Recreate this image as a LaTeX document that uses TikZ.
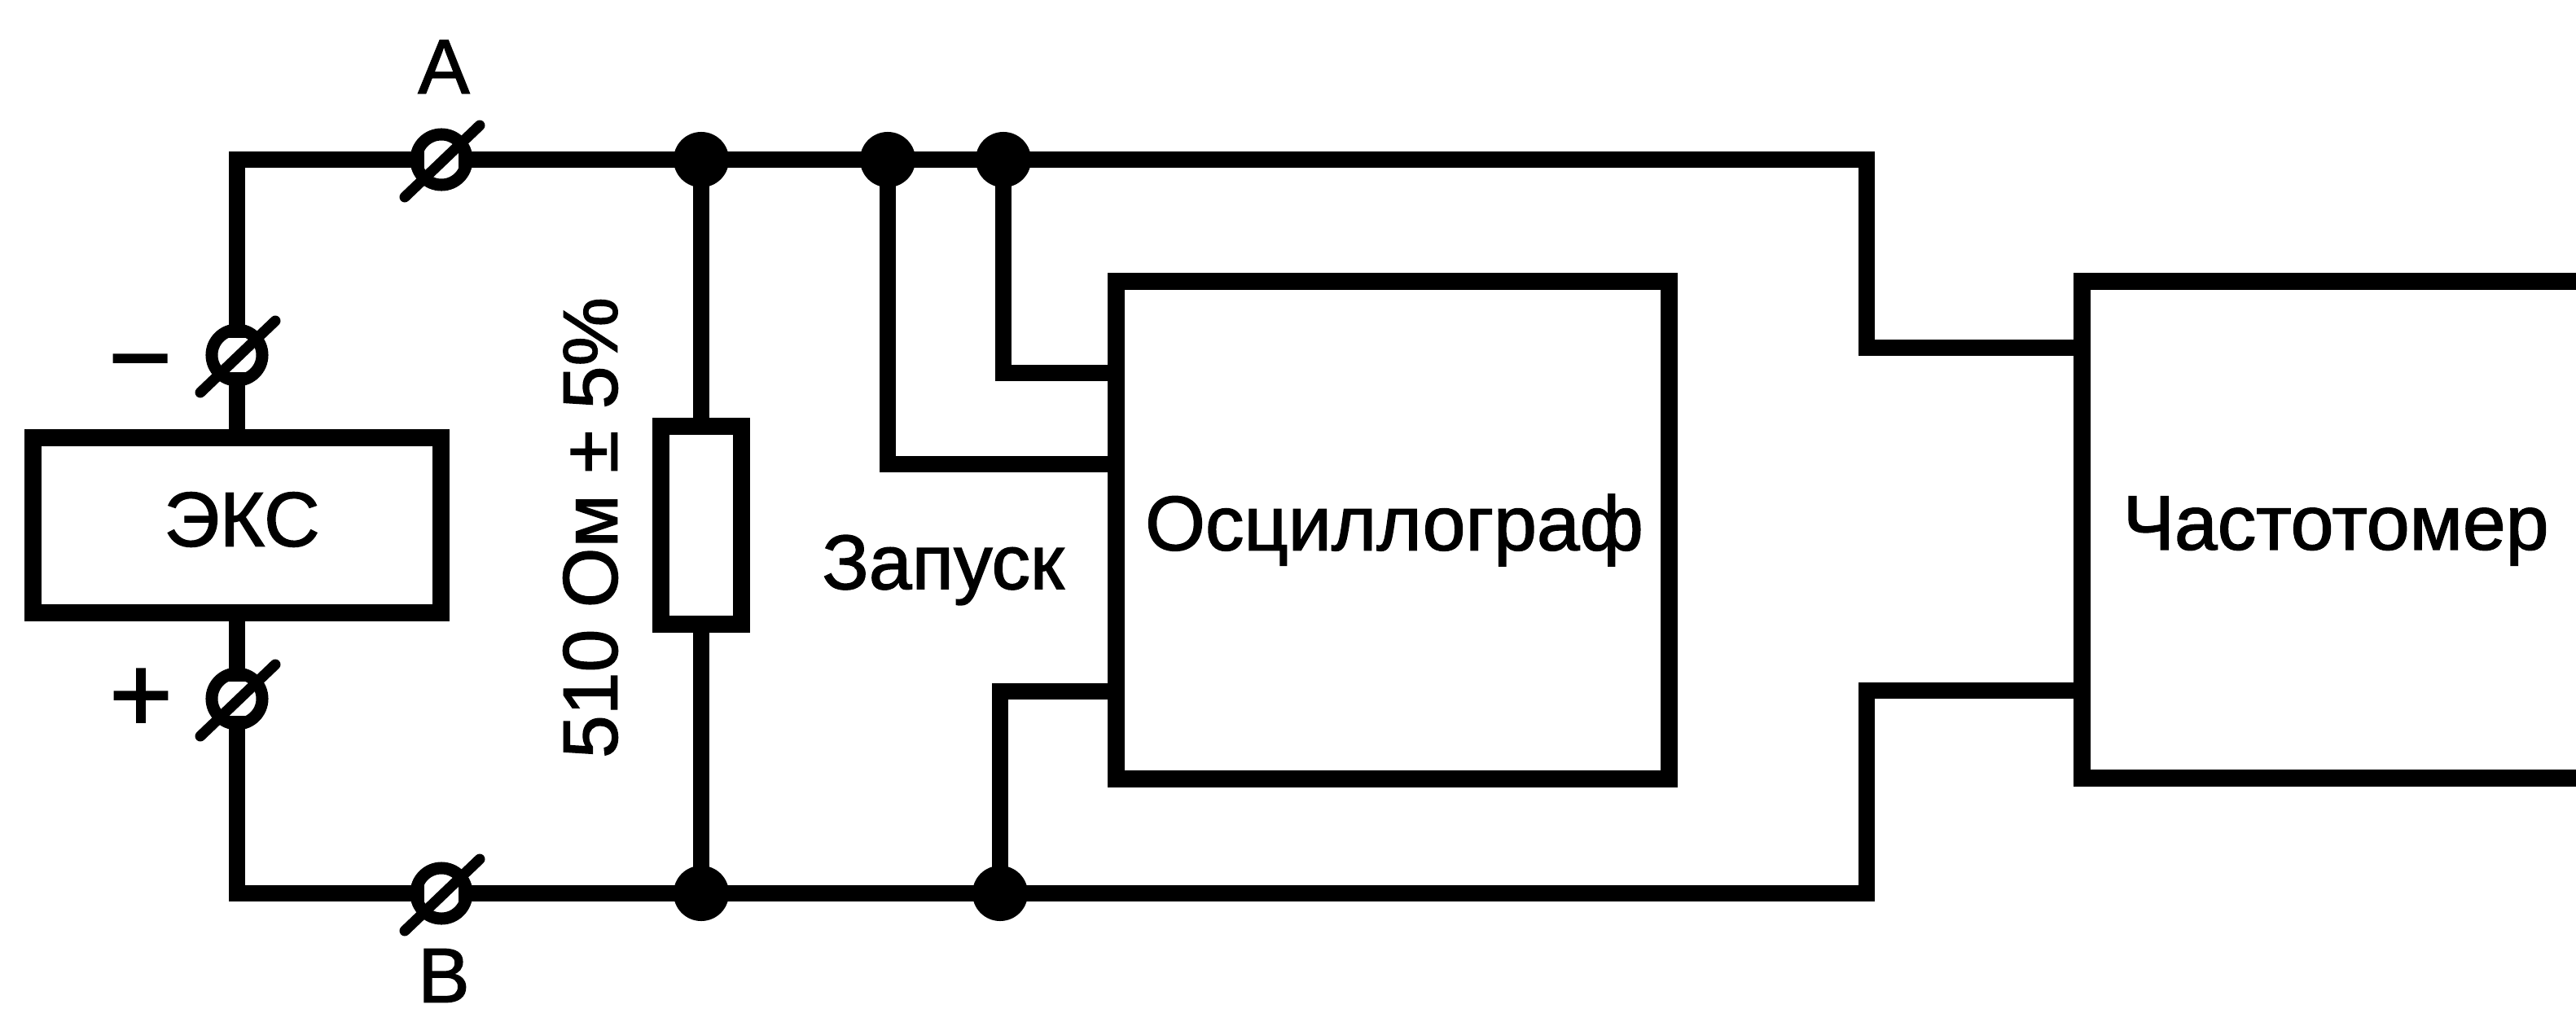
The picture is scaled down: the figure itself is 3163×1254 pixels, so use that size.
\documentclass[tikz,border=0pt]{standalone}
\usepackage{fontspec}
\setmainfont[FakeBold=1.5]{Liberation Sans}
\usetikzlibrary{calc}
\tikzset{
  wire/.style={line width=0.2cm,line cap=rect,line join=miter},
  boxed/.style={draw,line width=0.21cm,inner sep=0pt,outer sep=0pt,rectangle},
  terminal/.style={draw,circle,line width=0.15cm,minimum size=0.62cm,inner sep=0pt,outer sep=0pt},
  slashline/.style={line width=0.13cm,line cap=round},
  junction/.style={fill=black,circle,minimum size=0.68cm,inner sep=0pt,outer sep=0pt},
  lab/.style={font=\fontsize{27}{27}\selectfont,inner sep=0pt,outer sep=0pt},
  sign/.style={font=\fontsize{38}{38}\selectfont,inner sep=0pt,outer sep=0pt}
}
\newcommand{\termslash}[1]{\draw[slashline] ($(#1)+(-45,46)$) -- ($(#1)+(47,-42)$);}
\begin{document}
\begin{tikzpicture}[x=0.01cm,y=-0.01cm]
\useasboundingbox (0,0) rectangle (3163,1254);
% boxes
\node[boxed,minimum width=5cm,minimum height=2.14cm] (eks) at (291,645) {};
\node[lab] (ekslab) at (297,638) {ЭКС};
\node[boxed,minimum width=0.99cm,minimum height=2.42cm] (res) at (861,645) {};
\node[boxed,minimum width=6.78cm,minimum height=6.1cm] (osc) at (1710,651) {};
\node[lab] (osclab) at (1712,651) {Осциллограф};
\node[lab] (freqlab) at (2868,652) {Частотомер};
% terminals
\node[terminal] (ta) at (542,196) {};
\node[terminal] (tb) at (542,1097) {};
\node[terminal] (tm) at (291,436) {};
\node[terminal] (tp) at (291,858) {};
\termslash{ta}\termslash{tb}\termslash{tm}\termslash{tp}
% junctions
\node[junction] (j1) at (861,196) {};
\node[junction] (j2) at (1090,196) {};
\node[junction] (j3) at (1232,196) {};
\node[junction] (j4) at (861,1097) {};
\node[junction] (j5) at (1228,1097) {};
% free ends
\coordinate (oa) at (1371,458);
\coordinate (ob) at (1371,570);
\coordinate (oc) at (1371,849);
\coordinate (fa) at (2556,427);
\coordinate (fc) at (2556,848);
\coordinate (ca) at (2292,427);
\coordinate (cc) at (2292,848);
\coordinate (ft) at (2556,345);
\coordinate (fb) at (2556,955);
\coordinate (frt) at (3175,345);
\coordinate (frb) at (3175,955);
% frequency meter frame, running off the right edge
\draw[line width=0.21cm,line join=miter] (frt) -- (ft) -- (fb) -- (frb);
% wires
\draw[wire] (eks.north -| tm) -- (tm.south);
\draw[wire] (tm.north) |- (ta.west);
\draw[wire] (eks.south -| tp) -- (tp.north);
\draw[wire] (tp.south) |- (tb.west);
\draw[wire] (ta.east) -- (j1);
\draw[wire] (j1) -- (j2);
\draw[wire] (j2) -- (j3);
\draw[wire] (tb.east) -- (j4);
\draw[wire] (j4) -- (j5);
\draw[wire] (j1) -- (res.north);
\draw[wire] (res.south) -- (j4);
\draw[wire] (j3) |- (oa);
\draw[wire] (j2) |- (ob);
\draw[wire] (j5) |- (oc);
\draw[wire] (j3) -| (ca) -- (fa);
\draw[wire] (j5) -| (cc) -- (fc);
% labels
\node[lab] (la) at (545,82) {А};
\node[lab] (lb) at (545,1198) {В};
\node[sign] (lm) at (172,460) {−};
\node[sign] (lp) at (173,860) {+};
\node[lab,rotate=90] (lr) at (725,648) {510 Ом ± 5\%};
\node[lab] (ls) at (1158,700) {Запуск};
\end{tikzpicture}
\end{document}
